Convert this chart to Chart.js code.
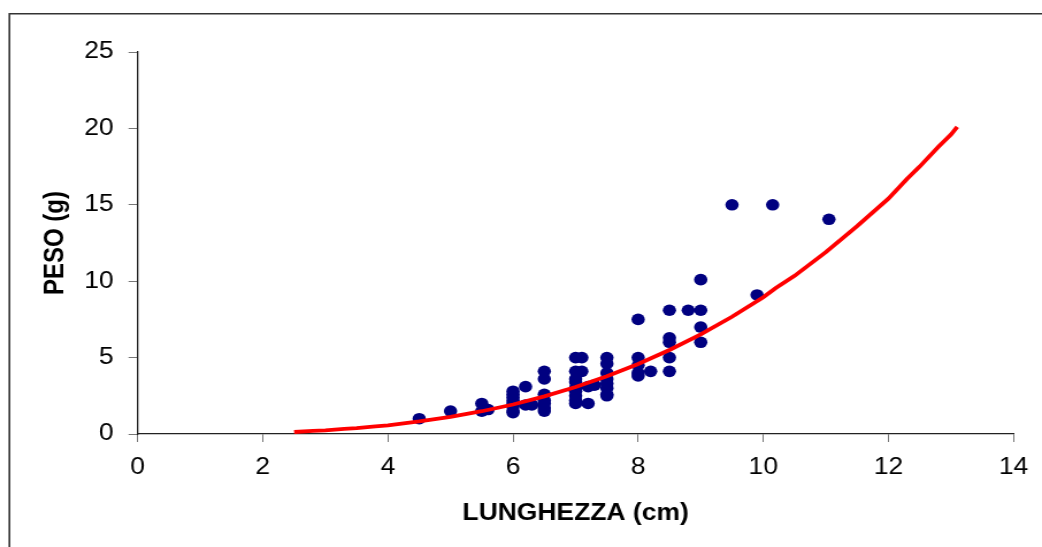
<!DOCTYPE html>
<html><head><meta charset="utf-8">
<script src="https://cdn.jsdelivr.net/npm/chart.js@4/dist/chart.umd.min.js"></script>
<style>html,body{margin:0;padding:0;background:#fff;overflow:hidden}
#c{position:absolute;left:0;top:0;}</style>
</head><body>
<canvas id="c" width="906" height="547" style="width:1042px;height:547px"></canvas>
<script>
// Data
const lunghezza = [4.5, 5.0, 5.5, 5.5, 5.6,
  6.0, 6.0, 6.0, 6.0, 6.0, 6.0, 6.0, 6.0,
  6.2, 6.2, 6.3,
  6.5, 6.5, 6.5, 6.5, 6.5, 6.5, 6.5,
  7.0, 7.1, 7.0, 7.1, 7.0, 7.0, 7.0, 7.0, 7.0, 7.0, 7.0, 7.2, 7.2, 7.3,
  7.5, 7.5, 7.5, 7.5, 7.5, 7.5, 7.5, 7.5,
  8.0, 8.0, 8.0, 8.0, 8.0, 8.2,
  8.5, 8.5, 8.5, 8.5, 8.5, 8.8,
  9.0, 9.0, 9.0, 9.0,
  9.5, 9.9, 10.15, 11.05];
const peso = [1.0, 1.5, 2.0, 1.5, 1.6,
  2.8, 2.6, 2.4, 2.2, 2.0, 1.8, 1.5, 1.4,
  3.1, 1.9, 1.9,
  4.1, 3.6, 2.6, 2.2, 2.0, 1.7, 1.5,
  5.0, 5.0, 4.1, 4.1, 3.6, 3.4, 3.0, 2.8, 2.5, 2.2, 2.0, 2.0, 3.1, 3.2,
  5.0, 4.6, 4.0, 3.6, 3.3, 3.0, 2.6, 2.5,
  7.5, 5.0, 4.5, 4.0, 3.8, 4.1,
  8.1, 6.3, 6.0, 5.0, 4.1, 8.1,
  10.1, 8.1, 7.0, 6.0,
  15.0, 9.1, 15.0, 14.05];
const curvaL = [2.5, 2.8, 3.0, 3.3, 3.5, 3.8, 4.0, 4.5, 5.0, 5.5, 6.0, 6.5, 7.0, 7.5, 8.0, 8.5, 9.0, 9.5, 10.0, 10.2, 10.5, 11.0, 11.5, 12.0, 12.3, 12.5, 12.8, 13.0, 13.1];
const curvaW = [0.13, 0.2, 0.24, 0.33, 0.38, 0.5, 0.57, 0.82, 1.12, 1.49, 1.93, 2.46, 3.07, 3.78, 4.58, 5.5, 6.52, 7.67, 8.95, 9.55, 10.35, 11.9, 13.6, 15.4, 16.7, 17.5, 18.8, 19.6, 20.1];
const xTicks = [0, 2, 4, 6, 8, 10, 12, 14];
const yTicks = [0, 5, 10, 15, 20, 25];
const xTitle = 'LUNGHEZZA (cm)';
const yTitle = 'PESO (g)';

const S = 1.15; // horizontal stretch of the reference
const FONT = "'Liberation Sans', Arial, sans-serif";

const framePlugin = {
  id: 'frame',
  beforeDraw(chart) {
    const ctx = chart.ctx;
    ctx.save();
    ctx.fillStyle = '#fff';
    ctx.fillRect(0, 0, chart.width, chart.height);
    ctx.strokeStyle = '#333';
    ctx.lineWidth = 1.6;
    ctx.beginPath();
    ctx.moveTo(8.2, chart.height + 5);
    ctx.lineTo(8.2, 13.8);
    ctx.lineTo(chart.width + 5, 13.8);
    ctx.stroke();
    ctx.restore();
  }
};

new Chart(document.getElementById('c'), {
  type: 'scatter',
  data: {
    datasets: [
      {
        type: 'line',
        data: curvaL.map((x, i) => ({x: x, y: curvaW[i]})),
        borderColor: '#ff0000',
        borderWidth: 3.8,
        pointRadius: 0,
        tension: 0,
        fill: false,
        order: 0
      },
      {
        data: lunghezza.map((x, i) => ({x: x, y: peso[i]})),
        backgroundColor: '#000080',
        borderColor: '#000080',
        borderWidth: 0,
        pointRadius: 5.8,
        pointHoverRadius: 5.8,
        order: 1
      }
    ]
  },
  options: {
    responsive: false,
    animation: false,
    devicePixelRatio: 1,
    layout: {padding: {left: 0, top: 52, right: 906 - 1015.7 / S, bottom: 0}},
    plugins: {legend: {display: false}, tooltip: {enabled: false}},
    scales: {
      x: {
        type: 'linear', min: 0, max: 14,
        afterBuildTicks: s => { s.ticks = xTicks.map(v => ({value: v})); },
        afterFit: s => { s.height = 547 - 434; },
        grid: {display: true, drawOnChartArea: false, drawTicks: true, tickLength: 8, color: '#777', lineWidth: 1},
        border: {display: true, color: '#222', width: 1.3},
        ticks: {color: '#000', font: {family: FONT, size: 23}, padding: 12, maxRotation: 0, autoSkip: false},
        title: {display: true, text: xTitle, color: '#000', font: {family: FONT, size: 23, weight: 'bold'}, padding: {top: 0, bottom: 20}}
      },
      y: {
        type: 'linear', min: 0, max: 25,
        afterBuildTicks: s => { s.ticks = yTicks.map(v => ({value: v})); },
        afterFit: s => { s.width = 137.7 / S; },
        grid: {display: true, drawOnChartArea: false, drawTicks: true, tickLength: 8, color: '#777', lineWidth: 1},
        border: {display: true, color: '#222', width: 1.3},
        ticks: {color: '#000', font: {family: FONT, size: 23}, padding: 13, autoSkip: false},
        title: {display: true, text: yTitle, color: '#000', font: {family: FONT, size: 24, weight: 'bold'}, padding: {top: 34, bottom: 0}}
      }
    }
  },
  plugins: [framePlugin]
});
</script>
</body></html>
